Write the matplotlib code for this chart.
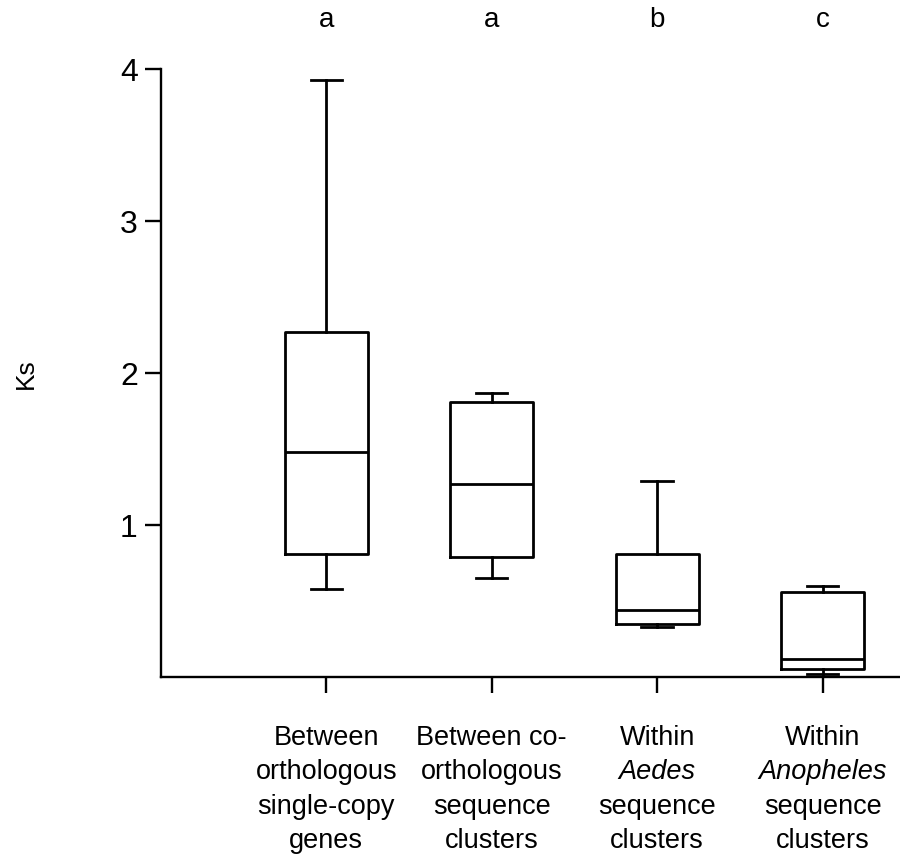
import matplotlib
matplotlib.use("Agg")
import matplotlib.pyplot as plt
import matplotlib.transforms as mtransforms

plt.rcParams["font.family"] = ["Liberation Sans", "DejaVu Sans"]

# summary values (Ks)
category_lines = [
    ["Between", "orthologous", "single-copy", "genes"],
    ["Between co-", "orthologous", "sequence", "clusters"],
    ["Within", "Aedes", "sequence", "clusters"],
    ["Within", "Anopheles", "sequence", "clusters"],
]
italic_words = ["Aedes", "Anopheles"]
whis_low = [0.58, 0.65, 0.33, 0.02]
q1 = [0.81, 0.79, 0.35, 0.05]
median = [1.48, 1.27, 0.44, 0.12]
q3 = [2.27, 1.81, 0.81, 0.56]
whis_high = [3.93, 1.87, 1.29, 0.60]
groups = ["a", "a", "b", "c"]

stats = []
for lo, a, m, b, hi in zip(whis_low, q1, median, q3, whis_high):
    stats.append({"whislo": lo, "q1": a, "med": m, "q3": b, "whishi": hi, "fliers": []})

fig = plt.figure(figsize=(9, 8.56), dpi=100)
ax = fig.add_axes([0.1786, 0.2091, 0.8214, 0.7100])

lw = 2.0
positions = list(range(1, len(stats) + 1))
ax.bxp(
    stats,
    positions=positions,
    widths=0.5,
    capwidths=0.19,
    showfliers=False,
    boxprops=dict(color="black", linewidth=lw),
    whiskerprops=dict(color="black", linewidth=lw),
    capprops=dict(color="black", linewidth=lw),
    medianprops=dict(color="black", linewidth=lw),
)

ax.set_xlim(0, 4.467)
ax.set_ylim(0, 4)
ax.set_yticks([1, 2, 3, 4])
ax.set_xticks(positions)
ax.set_xticklabels([""] * len(positions))
ax.tick_params(axis="y", labelsize=23, length=11.5, width=1.7, pad=5)
ax.tick_params(axis="x", length=11.5, width=1.7)

for side in ["top", "right"]:
    ax.spines[side].set_visible(False)
for side in ["left", "bottom"]:
    ax.spines[side].set_linewidth(1.7)

ax.set_ylabel("Ks", fontsize=19)
ax.yaxis.set_label_coords(-0.166, 0.5)

trans = mtransforms.blended_transform_factory(ax.transData, fig.transFigure)

# category labels, one text per line so italic lines keep even spacing
first_base = 1 - 745 / 856
step = 34.3 / 856
for x, lines in zip(positions, category_lines):
    for i, line in enumerate(lines):
        style = "italic" if line in italic_words else "normal"
        ax.text(x, first_base - i * step, line, transform=trans, ha="center",
                va="baseline", fontsize=19.5, style=style)

# significance letters above each box
for x, g in zip(positions, groups):
    ax.text(x, 0.9685, g, transform=trans, ha="center", va="baseline", fontsize=20)

fig.savefig("out.png", dpi=100)
